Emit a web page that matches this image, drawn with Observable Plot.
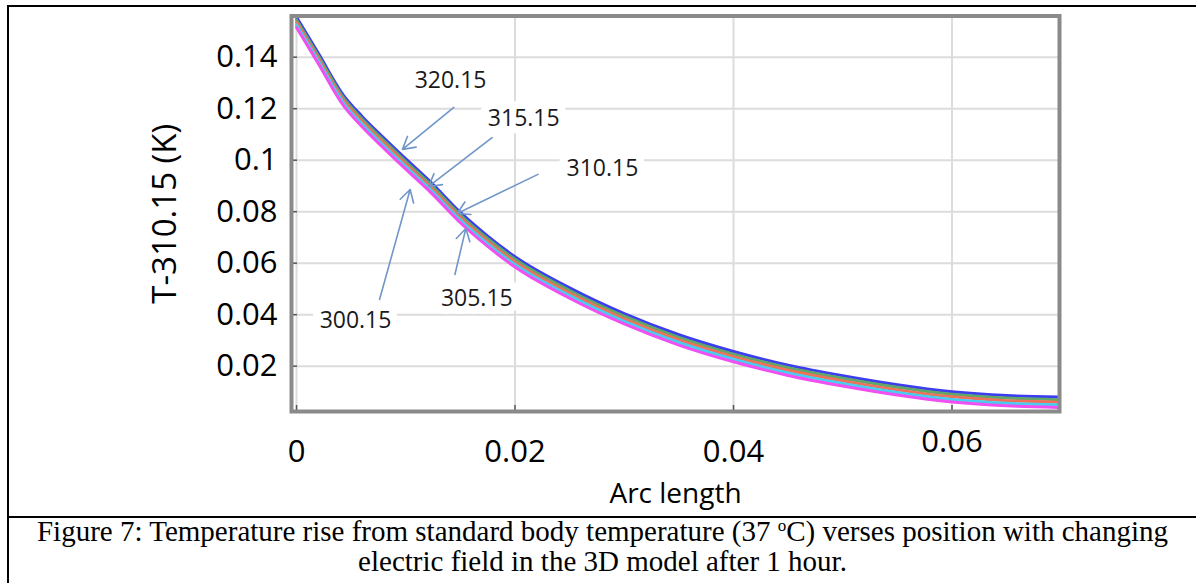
<!DOCTYPE html>
<html>
<head>
<meta charset="utf-8">
<script src="https://cdn.jsdelivr.net/npm/d3@7"></script>
<script src="https://cdn.jsdelivr.net/npm/@observablehq/plot@0.6"></script>
<style>
html,body{margin:0;padding:0;background:#fff;}
#wrap{position:relative;width:1196px;height:583px;overflow:hidden;background:#fff;}
#box{position:absolute;left:7px;top:5px;width:1300px;height:700px;border-left:2px solid #000;border-top:2px solid #000;}
#sep{position:absolute;left:7px;top:516px;width:1300px;border-top:2px solid #000;}
#chart{position:absolute;left:0;top:0;}
#caption{position:absolute;left:9px;top:516px;width:1187px;text-align:center;font-family:"Liberation Serif","Times New Roman",serif;font-size:29px;line-height:30px;color:#000;white-space:nowrap;}
#caption sup{font-size:17px;vertical-align:top;line-height:17px;position:relative;top:1px;}
</style>
</head>
<body>
<div id="wrap">
  <div id="box"></div>
  <div id="sep"></div>
  <div id="chart"></div>
  <div id="caption">Figure 7: Temperature rise from standard body temperature (37 <sup>o</sup>C) verses position with changing<br>electric field in the 3D model after 1 hour.</div>
</div>
<script>
// ---- data ----
const arcLength = [0, 0.002, 0.0043, 0.006, 0.008, 0.010, 0.0123, 0.015, 0.0175, 0.020, 0.025, 0.030, 0.035, 0.040, 0.045, 0.050, 0.055, 0.060, 0.065, 0.0697];
const series = ["320.15", "315.15", "310.15", "305.15", "300.15"];
const seriesColors = ["#3c3cf0", "#5fa86a", "#f0705a", "#46cdf0", "#f050f0"];
const t320 = [0.1555, 0.1415, 0.1252, 0.1170, 0.1086, 0.1005, 0.0914, 0.0797, 0.0705, 0.0625, 0.0504, 0.0404, 0.0322, 0.0257, 0.0204, 0.0163, 0.0128, 0.0101, 0.0086, 0.0080];
const t315 = [0.1545, 0.1405, 0.1242, 0.1160, 0.1076, 0.0995, 0.0904, 0.0787, 0.0695, 0.0615, 0.0494, 0.0394, 0.0312, 0.0247, 0.0194, 0.0153, 0.0118, 0.0091, 0.0076, 0.0070];
const t310 = [0.1535, 0.1395, 0.1232, 0.1150, 0.1066, 0.0985, 0.0894, 0.0777, 0.0685, 0.0605, 0.0484, 0.0384, 0.0302, 0.0237, 0.0184, 0.0143, 0.0108, 0.0081, 0.0066, 0.0060];
const t305 = [0.1525, 0.1385, 0.1222, 0.1140, 0.1056, 0.0975, 0.0884, 0.0767, 0.0675, 0.0595, 0.0474, 0.0374, 0.0292, 0.0227, 0.0174, 0.0133, 0.0098, 0.0071, 0.0056, 0.0050];
const t300 = [0.1515, 0.1375, 0.1212, 0.1130, 0.1046, 0.0965, 0.0874, 0.0757, 0.0665, 0.0585, 0.0464, 0.0364, 0.0282, 0.0217, 0.0164, 0.0123, 0.0088, 0.0061, 0.0046, 0.0040];
const seriesValues = [t320, t315, t310, t305, t300];

const xTicks = [0, 0.02, 0.04, 0.06];
const xTickLabels = ["0", "0.02", "0.04", "0.06"];
const yTicks = [0.02, 0.04, 0.06, 0.08, 0.10, 0.12, 0.14];
const yTickLabels = ["0.02", "0.04", "0.06", "0.08", "0.1", "0.12", "0.14"];

// annotation labels (data coordinates)
const annLabels = ["320.15", "315.15", "310.15", "305.15", "300.15"];
const annTextX = [0.0141, 0.0208, 0.0280, 0.0165, 0.0054];
const annTextY = [0.1310, 0.1162, 0.0968, 0.0463, 0.0377];
const annTailX = [0.0144, 0.0179, 0.0221, 0.0145, 0.0076];
const annTailY = [0.1205, 0.1088, 0.0945, 0.0556, 0.0459];
const annHeadX = [0.0097, 0.0121, 0.0147, 0.0155, 0.0104];
const annHeadY = [0.1042, 0.0898, 0.0793, 0.0735, 0.0886];

const xLabel = "Arc length";
const yLabel = "T-310.15 (K)";

// ---- build tables ----
const lineData = [];
series.forEach((s, k) => arcLength.forEach((x, i) => lineData.push({x, y: seriesValues[k][i], s})));
const ann = annLabels.map((label, i) => ({
  label, tx: annTextX[i], ty: annTextY[i],
  x1: annTailX[i], y1: annTailY[i], x2: annHeadX[i], y2: annHeadY[i]
}));

const W = 1196, H = 583, mL = 291, mR = 137, mT = 15.5, mB = 172;
const plotW = W - mL - mR, plotH = H - mT - mB;
const font = '"Open Sans", "Noto Sans", sans-serif';

const chart = Plot.plot({
  width: W, height: H,
  marginLeft: mL, marginRight: mR, marginTop: mT, marginBottom: mB,
  style: {fontFamily: font, background: "transparent", overflow: "visible", color: "#000"},
  x: {domain: [-0.00046, 0.06984]},
  y: {domain: [0.0024, 0.1560]},
  color: {domain: series, range: seriesColors},
  marks: [
    Plot.gridX(xTicks, {stroke: "#dcdcdc", strokeOpacity: 1, strokeWidth: 2}),
    Plot.gridY(yTicks, {stroke: "#dcdcdc", strokeOpacity: 1, strokeWidth: 2}),
    Plot.text(ann, {x: "tx", y: "ty", text: "label", fontSize: 23, fill: "#1a1a1a", stroke: "white", strokeWidth: 16, fontFamily: font}),
    Plot.line(lineData, {x: "x", y: "y", z: "s", stroke: "s", strokeWidth: 3, curve: "monotone-x", clip: true}),
    Plot.arrow(ann, {x1: "x1", y1: "y1", x2: "x2", y2: "y2", stroke: "#7097c9", strokeWidth: 1.6, headLength: 13, bend: 0}),
    Plot.tickY(yTicks, {y: d => d, stroke: "#555", strokeWidth: 1.5, insetRight: plotW - 6}),
    Plot.tickX(xTicks, {x: d => d, stroke: "#555", strokeWidth: 1.5, insetTop: plotH - 6}),
    Plot.axisY(yTicks, {tickSize: 0, tickPadding: 14, fontSize: 31, tickFormat: d => yTickLabels[yTicks.indexOf(d)], label: null}),
    Plot.axisX(xTicks.slice(0, 3), {tickSize: 0, tickPadding: 28, fontSize: 31, tickFormat: d => xTickLabels[xTicks.indexOf(d)], label: null}),
    Plot.axisX(xTicks.slice(3), {tickSize: 0, tickPadding: 18, fontSize: 31, tickFormat: d => xTickLabels[xTicks.indexOf(d)], label: null}),
    Plot.text([yLabel], {frameAnchor: "left", dx: -126, rotate: -90, textAnchor: "middle", lineAnchor: "middle", fontSize: 33, fill: "#000"}),
    Plot.text([xLabel], {frameAnchor: "bottom", dy: 83, textAnchor: "middle", lineAnchor: "middle", fontSize: 28, fill: "#000"}),
    Plot.frame({stroke: "#8a8a8a", strokeWidth: 4})
  ]
});
document.getElementById("chart").appendChild(chart);
</script>
</body>
</html>
